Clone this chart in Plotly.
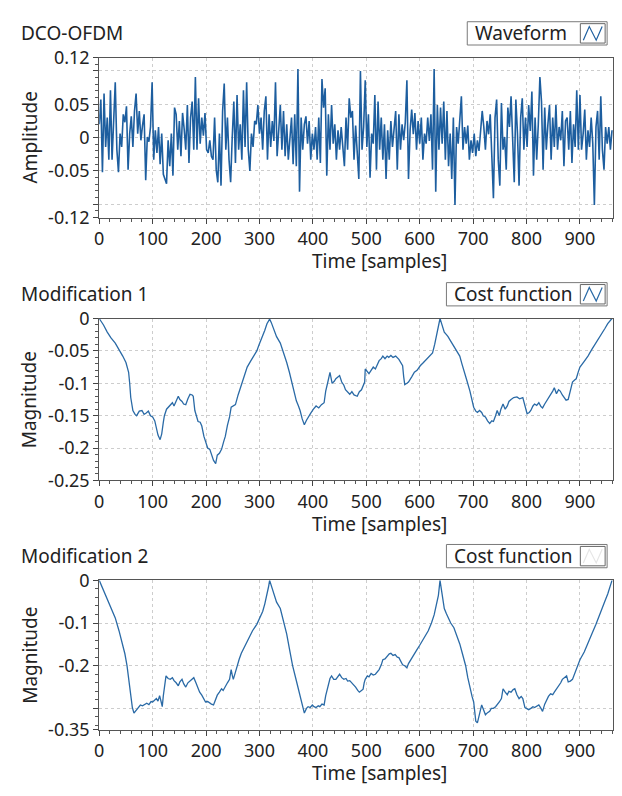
import plotly.graph_objects as go

# ---------------- data ----------------
# DCO-OFDM time-domain waveform, one value every 3 samples (x 1e-3)
wave_step = 3
wave_amp_milli = [
    20, 57, -52, 66, -14, 30, -33, 71, -33, 30,
    83, -18, -52, 6, -14, 35, 23, 47, -48, 6,
    32, -14, 40, 66, 6, 40, -4, 18, 35, -64,
    1, -6, 16, 83, -33, 11, -23, 16, -40, 6,
    -55, -62, -69, -4, -43, 6, -57, 45, 35, -18,
    25, -28, 37, 13, -18, 49, -38, 30, 54, -18,
    91, -18, 59, -9, 30, 3, 37, -18, -23, -4,
    -28, -33, 30, -48, -67, 6, -72, 40, 81,
    -18, 30, -33, -67, 1, 54, -38, 64, -18, 20,
    -33, 71, -14, 83, -18, -50, 6, -14, 25, 20,
    49, 6, 30, -18, 40, 62, -33, 35, -14, 25,
    -5, 83, -28, 11, 49, -18, 40, -28, 20, -33,
    -4, 30, -40, 35, -43, 103, -81, 30, -18, 20,
    32, -9, 25, -33, 6, -18, 16, -33, 30, -38,
    88, 45, 74, -57, 35, -18, 49, -9, 20, -33, 11,
    -18, 16, -9, -43, 30, -18, 59, 30,
    40, -33, 18, -18, -62, 100, -18, 16, 86, -14,
    35, -60, 6, -9, 64, -48, 54, -18, 30, -33,
    20, -62, 11, -33, 25, -14, 11, 40, -48, 35,
    -18, 20, -4, 23, 86, -62, 11, 42, 5, 37, -18,
    25, -9, 30, -33, 6, -9, 30, -5, 35, -48, 103,
    -81, 49, -18, 45, -9, 54, -33, 40, -43, 6,
    -62, 30, -101, 16, -9, 25, 62, -18, 16, -9,
    18, -33, -4, -23, 6, -28, -4,
    -20, 10, 40, 16, -18, 25, 5, 35, -23, -91, 30,
    57, -33, -72, 52, -18, 1, -48, 45, 16, 62,
    -9, -67, 57, 6, -72, 30, 59, -18, 30, -14,
    49, 10, 69, -57, 30, -33, 20, 91, 54, -48, 45,
    -18, 20, 49, -33, 30, -14, 49, -18, 16, -4,
    40, -43, 25, 30, -18, 40, -38, 20, -14, 71,
    -18, 64, -18, 6, 42, -33, 11, -14, 30, -9,
    -101, 16, 40, -33, 62, -18, -48, 16, -9, 16, -18, 11,
]

# Modification 1 cost function (sample index, magnitude)
cost1_t = [
    0, 8, 15, 22, 30, 37, 44, 50, 55, 57, 59, 63, 67, 70, 75, 80, 84, 88, 92, 96,
    100, 104, 107, 110, 114, 117, 120, 122, 126, 129, 133, 137, 140, 144, 148, 151,
    155, 158, 162, 166, 170, 174, 176, 179, 182, 185, 189, 192, 196, 200, 203, 207,
    210, 214, 218, 221, 225, 229, 233, 236, 240, 244, 247, 251, 255, 260, 266, 272,
    277, 284, 291, 295, 299, 306, 310, 314, 319, 322, 325, 332, 339, 345, 351, 356,
    362, 366, 369, 373, 376, 380, 384, 388, 391, 396, 401, 406, 411, 416, 421, 424,
    428, 432, 436, 440, 443, 447, 450, 454, 458, 461, 465, 469, 473, 477, 483, 487,
    491, 495, 497, 498, 502, 505, 509, 513, 517, 520, 524, 528, 531, 535, 539, 542,
    546, 550, 555, 561, 565, 568, 570, 572, 576, 579, 585, 590, 595, 601, 607, 613,
    618, 624, 628, 631, 635, 638, 641, 646, 650, 653, 658, 664, 670, 675, 679, 683,
    688, 694, 698, 701, 705, 708, 712, 716, 719, 723, 727, 731, 735, 738, 742, 745,
    749, 752, 756, 760, 764, 767, 771, 776, 782, 787, 793, 797, 801, 805, 808, 812,
    815, 819, 823, 827, 830, 834, 838, 842, 845, 849, 852, 856, 860, 863, 867, 871,
    874, 878, 882, 886, 890, 893, 897, 900, 908, 915, 922, 930, 936, 941, 947, 952,
    956, 960,
]
cost1_mag = [
    0.000, -0.010, -0.021, -0.030, -0.038, -0.047, -0.058, -0.068, -0.083, -0.100,
    -0.122, -0.142, -0.148, -0.150, -0.143, -0.142, -0.148, -0.146, -0.143, -0.150,
    -0.152, -0.158, -0.167, -0.180, -0.187, -0.178, -0.160, -0.150, -0.140, -0.137,
    -0.133, -0.130, -0.135, -0.128, -0.120, -0.125, -0.128, -0.132, -0.133, -0.124,
    -0.117, -0.118, -0.120, -0.142, -0.152, -0.159, -0.160, -0.166, -0.182, -0.192,
    -0.200, -0.202, -0.210, -0.219, -0.224, -0.211, -0.208, -0.202, -0.190, -0.182,
    -0.165, -0.152, -0.137, -0.135, -0.133, -0.118, -0.102, -0.088, -0.075, -0.065,
    -0.055, -0.050, -0.041, -0.028, -0.018, -0.008, -0.001, -0.006, -0.013, -0.028,
    -0.038, -0.052, -0.068, -0.083, -0.102, -0.118, -0.127, -0.135, -0.142, -0.155,
    -0.164, -0.157, -0.152, -0.146, -0.140, -0.135, -0.138, -0.133, -0.130, -0.112,
    -0.098, -0.083, -0.100, -0.097, -0.093, -0.090, -0.088, -0.098, -0.103, -0.110,
    -0.114, -0.117, -0.113, -0.118, -0.120, -0.113, -0.110, -0.102, -0.098, -0.078,
    -0.082, -0.085, -0.080, -0.075, -0.078, -0.072, -0.065, -0.062, -0.058, -0.062,
    -0.058, -0.060, -0.057, -0.060, -0.058, -0.063, -0.068, -0.073, -0.090, -0.102,
    -0.100, -0.098, -0.090, -0.083, -0.080, -0.073, -0.068, -0.063, -0.058, -0.053,
    -0.040, -0.028, -0.008, 0.000, -0.008, -0.021, -0.025, -0.028, -0.035, -0.043,
    -0.050, -0.058, -0.070, -0.083, -0.095, -0.112, -0.128, -0.137, -0.143, -0.145,
    -0.142, -0.145, -0.150, -0.152, -0.158, -0.162, -0.158, -0.159, -0.150, -0.142,
    -0.150, -0.140, -0.132, -0.140, -0.135, -0.128, -0.125, -0.122, -0.121, -0.124,
    -0.122, -0.135, -0.147, -0.145, -0.142, -0.135, -0.132, -0.134, -0.130, -0.136,
    -0.138, -0.132, -0.127, -0.122, -0.117, -0.112, -0.107, -0.116, -0.110, -0.112,
    -0.118, -0.122, -0.126, -0.125, -0.110, -0.098, -0.095, -0.093, -0.082, -0.075,
    -0.066, -0.058, -0.048, -0.038, -0.030, -0.023, -0.015, -0.008, -0.003, 0.000,
]

# Modification 2 cost function (sample index, magnitude)
cost2_t = [
    0, 7, 15, 22, 30, 37, 44, 48, 52, 56, 59, 62, 65, 69, 73, 77, 81, 85, 89, 93,
    97, 100, 104, 107, 110, 113, 116, 118, 120, 122, 125, 129, 133, 137, 140, 144,
    148, 151, 155, 158, 162, 166, 170, 174, 177, 181, 185, 188, 192, 196, 199, 203,
    207, 210, 214, 218, 221, 225, 229, 232, 236, 240, 244, 247, 249, 251, 255, 258,
    262, 266, 273, 280, 287, 295, 300, 306, 310, 314, 317, 319, 322, 325, 329, 332,
    339, 345, 351, 356, 362, 368, 373, 377, 380, 384, 388, 391, 395, 399, 402, 406,
    410, 413, 417, 421, 424, 428, 432, 435, 439, 443, 447, 450, 454, 458, 462, 465,
    469, 473, 476, 480, 484, 487, 491, 494, 496, 498, 502, 505, 509, 513, 517, 520,
    524, 528, 531, 535, 539, 543, 546, 550, 554, 558, 561, 565, 568, 572, 576, 579,
    583, 588, 594, 600, 605, 611, 616, 622, 627, 631, 635, 638, 641, 643, 646, 650,
    653, 658, 664, 670, 675, 680, 686, 690, 694, 698, 701, 703, 705, 708, 712, 716,
    720, 723, 727, 731, 734, 738, 742, 745, 749, 753, 756, 760, 764, 767, 771, 775,
    778, 782, 786, 790, 793, 797, 801, 804, 808, 812, 815, 819, 823, 827, 830, 834,
    838, 841, 845, 849, 852, 856, 860, 864, 867, 871, 875, 878, 882, 886, 890, 893,
    897, 900, 908, 915, 922, 930, 936, 941, 947, 952, 956, 960,
]
cost2_mag = [
    0.000, -0.020, -0.043, -0.065, -0.088, -0.118, -0.149, -0.172, -0.200, -0.240,
    -0.277, -0.298, -0.311, -0.305, -0.300, -0.292, -0.294, -0.290, -0.288, -0.291,
    -0.284, -0.285, -0.280, -0.277, -0.283, -0.270, -0.285, -0.296, -0.270, -0.247,
    -0.224, -0.230, -0.232, -0.228, -0.235, -0.240, -0.247, -0.238, -0.232, -0.242,
    -0.250, -0.240, -0.235, -0.232, -0.228, -0.240, -0.254, -0.262, -0.269, -0.278,
    -0.285, -0.284, -0.288, -0.290, -0.292, -0.280, -0.269, -0.262, -0.254, -0.258,
    -0.247, -0.240, -0.232, -0.209, -0.222, -0.232, -0.215, -0.200, -0.185, -0.171,
    -0.152, -0.134, -0.118, -0.103, -0.088, -0.073, -0.055, -0.035, -0.015, 0.000,
    -0.012, -0.026, -0.040, -0.051, -0.066, -0.095, -0.126, -0.160, -0.200, -0.230,
    -0.254, -0.275, -0.292, -0.311, -0.300, -0.296, -0.298, -0.292, -0.296, -0.298,
    -0.294, -0.296, -0.290, -0.292, -0.270, -0.247, -0.230, -0.224, -0.232, -0.232,
    -0.225, -0.220, -0.228, -0.232, -0.230, -0.236, -0.235, -0.240, -0.245, -0.250,
    -0.258, -0.262, -0.258, -0.255, -0.240, -0.232, -0.224, -0.226, -0.218, -0.222,
    -0.220, -0.215, -0.209, -0.198, -0.186, -0.184, -0.178, -0.172, -0.171, -0.176,
    -0.174, -0.180, -0.181, -0.190, -0.198, -0.200, -0.205, -0.195, -0.186, -0.176,
    -0.164, -0.152, -0.141, -0.130, -0.118, -0.100, -0.081, -0.058, -0.035, 0.000,
    -0.030, -0.050, -0.066, -0.078, -0.088, -0.100, -0.111, -0.130, -0.149, -0.172,
    -0.200, -0.228, -0.254, -0.272, -0.285, -0.310, -0.330, -0.334, -0.310, -0.292,
    -0.305, -0.315, -0.310, -0.307, -0.300, -0.300, -0.296, -0.292, -0.285, -0.277,
    -0.254, -0.262, -0.268, -0.260, -0.262, -0.256, -0.254, -0.268, -0.277, -0.272,
    -0.277, -0.298, -0.300, -0.303, -0.300, -0.296, -0.298, -0.294, -0.292, -0.300,
    -0.307, -0.290, -0.277, -0.272, -0.266, -0.268, -0.262, -0.255, -0.250, -0.240,
    -0.232, -0.228, -0.224, -0.238, -0.236, -0.232, -0.220, -0.209, -0.197, -0.186,
    -0.168, -0.149, -0.126, -0.103, -0.085, -0.066, -0.048, -0.032, -0.018, 0.000,
]

x_ticks = [0, 100, 200, 300, 400, 500, 600, 700, 800, 900]
y1_ticks = [-0.12, -0.1, -0.05, 0, 0.05, 0.1, 0.12]
y1_labels = ["-0.12", "", "-0.05", "0", "0.05", "", "0.12"]
y2_ticks = [-0.25, -0.2, -0.15, -0.1, -0.05, 0]
y2_labels = ["-0.25", "-0.2", "-0.15", "-0.1", "-0.05", "0"]
y3_ticks = [-0.35, -0.3, -0.2, -0.1, 0]
y3_labels = ["-0.35", "", "-0.2", "-0.1", "0"]

panel_titles = ["DCO-OFDM", "Modification 1", "Modification 2"]
legend_names = ["Waveform", "Cost function", "Cost function"]
y_titles = ["Amplitude", "Magnitude", "Magnitude"]
x_title = "Time [samples]"

wave_t = [i * wave_step for i in range(len(wave_amp_milli))]
wave_amp = [v / 1000 for v in wave_amp_milli]

# ---------------- layout geometry (pixels) ----------------
W, H = 622, 796
FONT = "Noto Sans"
TXT = "#222222"
TICK_SIZE = 18
LABEL_SIZE = 19


def px(x):
    return x / W


def py(y):
    return 1 - y / H


plot_x0, plot_x1 = 95, 613
panels = [  # top, bottom of each plot area
    (46, 211),
    (315, 482),
    (585, 739),
]
legend_left = [466, 445, 445]
legend_right = 607

fig = go.Figure()

line_cols = ["#1d5e9f", "#2a6aa6", "#2a6aa6"]
series = [(wave_t, wave_amp), (cost1_t, cost1_mag), (cost2_t, cost2_mag)]
yranges = [[-0.12, 0.12], [-0.25, 0], [-0.35, 0]]
yticks = [(y1_ticks, y1_labels), (y2_ticks, y2_labels), (y3_ticks, y3_labels)]
yminor = [0.01, 0.01, 0.02]
widths = [1.6, 1.3, 1.3]

layout = dict(
    width=W, height=H,
    margin=dict(l=0, r=0, t=0, b=0),
    paper_bgcolor="white", plot_bgcolor="white",
    showlegend=False,
    font=dict(family=FONT, size=TICK_SIZE, color=TXT),
)

shapes, annotations = [], []

for i, ((xs, ys), (top, bot)) in enumerate(zip(series, panels)):
    n = "" if i == 0 else str(i + 1)
    fig.add_trace(go.Scatter(
        x=xs, y=ys, mode="lines", name=legend_names[i],
        line=dict(color=line_cols[i], width=widths[i]),
        xaxis="x" + n, yaxis="y" + n, hoverinfo="skip",
    ))
    layout["xaxis" + n] = dict(
        domain=[px(plot_x0), px(plot_x1)], range=[0, 962],
        anchor="y" + n,
        tickmode="array", tickvals=x_ticks,
        ticks="outside", ticklen=5, tickcolor="#444",
        tickfont=dict(size=TICK_SIZE, color=TXT),
        showline=True, linecolor="#555", linewidth=1, mirror=True,
        showgrid=True, gridcolor="#cdcdcd", griddash="dot", gridwidth=1,
        zeroline=False,
        minor=dict(tick0=0, dtick=20, ticks="outside", ticklen=3,
                   tickcolor="#555", showgrid=False),
    )
    tv, tt = yticks[i]
    layout["yaxis" + n] = dict(
        domain=[py(bot), py(top)], range=yranges[i],
        anchor="x" + n,
        tickmode="array", tickvals=tv, ticktext=tt,
        ticks="outside", ticklen=5, tickcolor="#444",
        tickfont=dict(size=TICK_SIZE, color=TXT),
        showline=True, linecolor="#555", linewidth=1, mirror=True,
        showgrid=True, gridcolor="#cdcdcd", griddash="dot", gridwidth=1,
        zeroline=False,
        minor=dict(tick0=0, dtick=yminor[i], ticks="outside", ticklen=3,
                   tickcolor="#555", showgrid=False),
    )

    # panel title
    annotations.append(dict(
        text=panel_titles[i], x=px(14), y=py(top - 25), xref="paper", yref="paper",
        xanchor="left", yanchor="middle", showarrow=False,
        font=dict(size=LABEL_SIZE, color=TXT),
    ))
    # y-axis title
    annotations.append(dict(
        text=y_titles[i], x=px(25), y=py((top + bot) / 2), xref="paper", yref="paper",
        xanchor="center", yanchor="middle", textangle=-90, showarrow=False,
        font=dict(size=LABEL_SIZE, color=TXT),
    ))
    # x-axis title
    annotations.append(dict(
        text=x_title, x=px(378), y=py(bot + 45),
        xref="paper", yref="paper", xanchor="center", yanchor="middle",
        showarrow=False, font=dict(size=LABEL_SIZE, color=TXT),
    ))

    # legend box with label and line glyph on the right
    lx0, lx1 = legend_left[i], legend_right
    ly0, ly1 = top - 37, top - 13
    shapes.append(dict(type="rect", xref="paper", yref="paper",
                       x0=px(lx0), x1=px(lx1), y0=py(ly1), y1=py(ly0),
                       line=dict(color="#7a7a7a", width=1), fillcolor="white"))
    ix0, ix1 = lx1 - 27, lx1 - 2
    iy0, iy1 = ly0 + 2, ly1 - 2
    shapes.append(dict(type="rect", xref="paper", yref="paper",
                       x0=px(ix0), x1=px(ix1), y0=py(iy1), y1=py(iy0),
                       line=dict(color="#666", width=1), fillcolor="white"))
    glyph_col = line_cols[i] if i < 2 else "#e6e6e6"
    pts = [(ix0 + 3, iy1 - 3), (ix0 + 9, iy0 + 3), (ix0 + 16, iy1 - 3), (ix1 - 3, iy0 + 3)]
    path = "M " + " L ".join(f"{px(a):.5f},{py(b):.5f}" for a, b in pts)
    shapes.append(dict(type="path", xref="paper", yref="paper", path=path,
                       line=dict(color=glyph_col, width=1.2)))
    annotations.append(dict(
        text=legend_names[i], x=px(lx0 + 6), y=py((ly0 + ly1) / 2),
        xref="paper", yref="paper", xanchor="left", yanchor="middle",
        showarrow=False, font=dict(size=LABEL_SIZE, color=TXT),
    ))

layout["shapes"] = shapes
layout["annotations"] = annotations
fig.update_layout(**layout)

fig.write_html("out.html")
